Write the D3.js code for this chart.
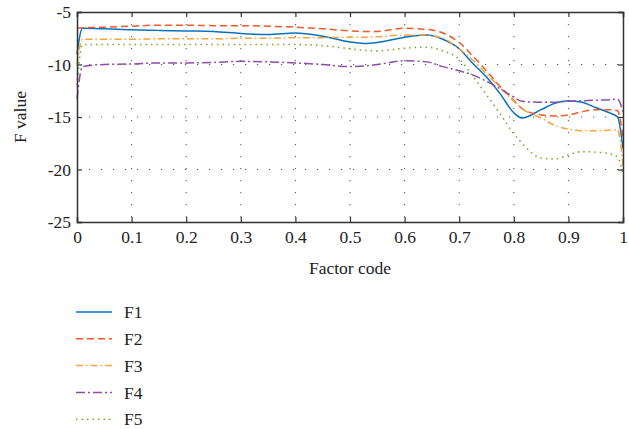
<!DOCTYPE html>
<html>
<head>
<meta charset="utf-8">
<script src="https://cdn.jsdelivr.net/npm/d3@7"></script>
<style>
  body { margin: 0; background: #fff; }
  text { font-family: "Liberation Serif", "DejaVu Serif", serif; fill: #222; }
</style>
</head>
<body>
<svg id="chart" width="629" height="429"></svg>
<script>
// factor codes where the curves were read
var codes = [0, 0.01, 0.05, 0.1, 0.15, 0.2, 0.25, 0.3, 0.35, 0.4, 0.45, 0.5, 0.525, 0.55, 0.6, 0.64, 0.67,
             0.7, 0.725, 0.75, 0.775, 0.8, 0.815, 0.85, 0.875, 0.9, 0.925, 0.95, 0.975, 0.99, 1];

var f1 = [-9.0, -6.55, -6.6, -6.7, -6.75, -6.8, -6.85, -7.05, -7.15, -7.0, -7.3, -7.85, -8.0, -7.9, -7.4, -7.2, -7.6,
          -8.5, -9.9, -11.2, -12.8, -14.6, -15.1, -14.3, -13.7, -13.45, -13.6, -14.1, -14.6, -15.0, -18.0];
var f2 = [-6.55, -6.5, -6.45, -6.35, -6.25, -6.25, -6.3, -6.3, -6.35, -6.45, -6.6, -6.8, -6.85, -6.85, -6.55, -6.65, -7.0,
          -7.9, -9.2, -10.6, -12.1, -13.4, -14.2, -14.8, -14.9, -14.8, -14.5, -14.3, -14.3, -14.4, -17.0];
var f3 = [-10.0, -7.6, -7.6, -7.6, -7.55, -7.55, -7.55, -7.5, -7.5, -7.45, -7.45, -7.4, -7.4, -7.35, -7.2, -7.2, -7.5,
          -8.5, -9.6, -10.9, -12.2, -13.5, -14.2, -15.1, -15.8, -16.15, -16.3, -16.3, -16.25, -16.2, -19.6];
var f4 = [-13.3, -10.2, -10.0, -9.95, -9.85, -9.85, -9.8, -9.7, -9.75, -9.85, -10.0, -10.2, -10.15, -10.0, -9.65, -9.75, -10.2,
          -10.6, -11.0, -11.6, -12.3, -13.1, -13.5, -13.6, -13.6, -13.5, -13.45, -13.4, -13.35, -13.3, -14.5];
var f5 = [-12.0, -8.1, -8.1, -8.1, -8.1, -8.1, -8.1, -8.1, -8.1, -8.1, -8.2, -8.5, -8.65, -8.7, -8.45, -8.35, -8.7,
          -9.5, -11.1, -12.9, -14.7, -16.6, -17.5, -18.9, -19.0, -18.6, -18.3, -18.35, -18.5, -18.8, -20.5];

var names = ['F1', 'F2', 'F3', 'F4', 'F5'];
var xTicks = [0, 0.1, 0.2, 0.3, 0.4, 0.5, 0.6, 0.7, 0.8, 0.9, 1];
var yTicks = [-25, -20, -15, -10, -5];

var series = [f1, f2, f3, f4, f5];
var colors = ['#0a72bd', '#ee5a2a', '#f6a43c', '#8f4ea6', '#77ac30'];
var dashes = ['none', '7,4', '7,3,1.5,3', '9,3,2,3', '1.5,4'];

var svg = d3.select('#chart');
var pLeft = 77, pRight = 623, pTop = 12, pBottom = 222;
var fontSize = '17.5px';

var x = d3.scaleLinear().domain([0, 1]).range([pLeft, pRight]);
var y = d3.scaleLinear().domain([-25, -5]).range([pBottom, pTop]);

draw();

function draw () {
  // dotted grid
  var grid = svg.append('g');
  grid.selectAll('.gx').data(xTicks.slice(1, -1)).enter().append('line')
    .attr('x1', function(d) { return x(d); }).attr('x2', function(d) { return x(d); })
    .attr('y1', pTop).attr('y2', pBottom)
    .attr('stroke', '#555').attr('stroke-width', 1).attr('stroke-dasharray', '1.2,10.8');
  grid.selectAll('.gy').data(yTicks.slice(1, -1)).enter().append('line')
    .attr('x1', pLeft).attr('x2', pRight)
    .attr('y1', function(d) { return y(d); }).attr('y2', function(d) { return y(d); })
    .attr('stroke', '#555').attr('stroke-width', 1).attr('stroke-dasharray', '1.2,10.8');

  // curves
  var line = d3.line()
    .x(function(d, i) { return x(codes[i]); })
    .y(function(d) { return y(d); })
    .curve(d3.curveMonotoneX);

  for (var i = 0; i < series.length; ++i) {
    svg.append('path')
      .attr('d', line(series[i]))
      .attr('fill', 'none')
      .attr('stroke', colors[i])
      .attr('stroke-width', i == 4 ? 1.6 : 1.5)
      .attr('stroke-dasharray', dashes[i]);
  }

  // axes with box
  var bx = d3.axisBottom(x).tickValues(xTicks).tickSize(-5).tickPadding(9)
    .tickFormat(function(d) { return d == 0 || d == 1 ? String(d) : d.toFixed(1); });
  var by = d3.axisLeft(y).tickValues(yTicks).tickSize(-5).tickPadding(6)
    .tickFormat(function(d) { return String(d); });
  var tx = d3.axisTop(x).tickValues(xTicks).tickSize(-5).tickFormat('');
  var ry = d3.axisRight(y).tickValues(yTicks).tickSize(-5).tickFormat('');

  var gb = svg.append('g').attr('transform', 'translate(0,' + pBottom + ')').call(bx);
  var gl = svg.append('g').attr('transform', 'translate(' + pLeft + ',0)').call(by);
  var gt = svg.append('g').attr('transform', 'translate(0,' + pTop + ')').call(tx);
  var gr = svg.append('g').attr('transform', 'translate(' + pRight + ',0)').call(ry);

  [gb, gl, gt, gr].forEach(function(g) {
    g.selectAll('path').attr('stroke', '#333').attr('stroke-width', 1.5);
    g.selectAll('line').attr('stroke', '#333').attr('stroke-width', 1.2);
    g.selectAll('text').style('font-family', '"Liberation Serif", serif').style('font-size', fontSize).attr('fill', '#222');
  });

  svg.append('text')
    .attr('x', (pLeft + pRight) / 2).attr('y', 274)
    .attr('text-anchor', 'middle').style('font-size', fontSize)
    .text('Factor code');

  svg.append('text')
    .attr('transform', 'translate(26,' + ((pTop + pBottom) / 2) + ') rotate(-90)')
    .attr('text-anchor', 'middle').style('font-size', fontSize)
    .text('F value');

  // legend
  var lg = svg.append('g');
  for (var j = 0; j < names.length; ++j) {
    var ly = 312 + j * 26.8;
    lg.append('line')
      .attr('x1', 76).attr('x2', 112).attr('y1', ly).attr('y2', ly)
      .attr('stroke', colors[j]).attr('stroke-width', 1.5)
      .attr('stroke-dasharray', dashes[j]);
    lg.append('text')
      .attr('x', 124).attr('y', ly).attr('dy', '0.35em')
      .style('font-size', fontSize)
      .text(names[j]);
  }
}
</script>
</body>
</html>
